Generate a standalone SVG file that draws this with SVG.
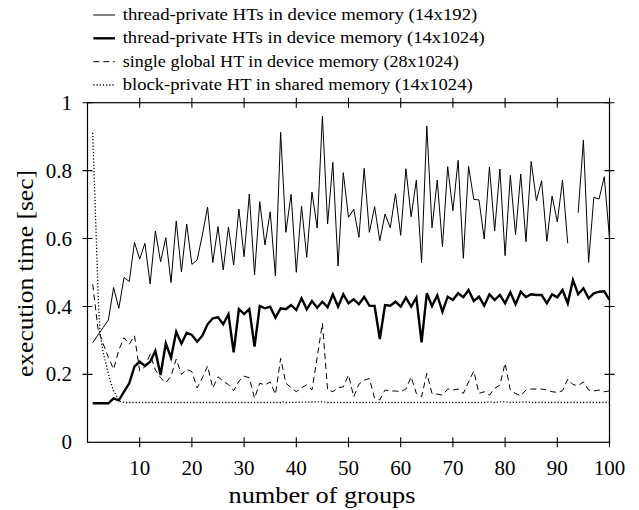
<svg xmlns="http://www.w3.org/2000/svg" width="639" height="510" viewBox="0 0 639 510">
<style>
.ax{fill:none;stroke:#000;stroke-width:1.2}
.tick{stroke:#000;stroke-width:1.1}
.thin{fill:none;stroke:#000;stroke-width:1;stroke-linejoin:miter}
.thick{fill:none;stroke:#000;stroke-width:2.4;stroke-linejoin:miter}
.dash{fill:none;stroke:#000;stroke-width:1;stroke-dasharray:6 4}
.dot{fill:none;stroke:#000;stroke-width:1.3;stroke-dasharray:1.2 2}
</style>
<rect width="639" height="510" fill="#fff"/>
<g id="legend">
  <g id="leg1"><line class="thin" x1="93.3" y1="15" x2="115" y2="15"/><text font-family="Liberation Serif, serif" font-size="17.5" x="122.7" y="20" textLength="354.6" lengthAdjust="spacingAndGlyphs">thread-private HTs in device memory (14x192)</text></g>
  <g id="leg2"><line class="thick" x1="93.3" y1="38.3" x2="115" y2="38.3"/><text font-family="Liberation Serif, serif" font-size="17.5" x="122.7" y="43.3" textLength="362" lengthAdjust="spacingAndGlyphs">thread-private HTs in device memory (14x1024)</text></g>
  <g id="leg3"><line class="dash" x1="93.3" y1="61.7" x2="115" y2="61.7"/><text font-family="Liberation Serif, serif" font-size="17.5" x="122.7" y="66.7" textLength="336" lengthAdjust="spacingAndGlyphs">single global HT in device memory (28x1024)</text></g>
  <g id="leg4"><line class="dot" x1="93.3" y1="85" x2="115" y2="85"/><text font-family="Liberation Serif, serif" font-size="17.5" x="122.7" y="90" textLength="350" lengthAdjust="spacingAndGlyphs">block-private HT in shared memory (14x1024)</text></g>
</g>
<g id="axes">
  <rect class="ax" x="87.5" y="102.7" width="522" height="339.6"/>
  <path class="tick" d="M139.7,437.3v10M191.9,437.3v10M244.1,437.3v10M296.3,437.3v10M348.5,437.3v10M400.7,437.3v10M452.9,437.3v10M505.1,437.3v10M557.3,437.3v10M609.5,437.3v10
  M139.7,97.7v10M191.9,97.7v10M244.1,97.7v10M296.3,97.7v10M348.5,97.7v10M400.7,97.7v10M452.9,97.7v10M505.1,97.7v10M557.3,97.7v10M609.5,97.7v10
  M82.5,374.4h10M82.5,306.5h10M82.5,238.5h10M82.5,170.6h10M82.5,102.7h10
  M604.5,374.4h10M604.5,306.5h10M604.5,238.5h10M604.5,170.6h10M604.5,102.7h10"/>
</g>
<g id="ylabels" text-anchor="end" font-family="Liberation Serif, serif" font-size="21">
  <text x="72" y="449.3">0</text>
  <text x="72" y="381.4">0.2</text>
  <text x="72" y="313.5">0.4</text>
  <text x="72" y="245.5">0.6</text>
  <text x="72" y="177.6">0.8</text>
  <text x="72" y="109.7">1</text>
</g>
<g id="xlabels" text-anchor="middle" font-family="Liberation Serif, serif" font-size="21">
  <text x="139.7" y="475">10</text>
  <text x="191.9" y="475">20</text>
  <text x="244.1" y="475">30</text>
  <text x="296.3" y="475">40</text>
  <text x="348.5" y="475">50</text>
  <text x="400.7" y="475">60</text>
  <text x="452.9" y="475">70</text>
  <text x="505.1" y="475">80</text>
  <text x="557.3" y="475">90</text>
  <text x="609.5" y="475">100</text>
</g>
<text id="xtitle" font-family="Liberation Serif, serif" font-size="23" x="322" y="503" text-anchor="middle" textLength="187" lengthAdjust="spacingAndGlyphs">number of groups</text>
<text id="ytitle" font-family="Liberation Serif, serif" font-size="23" transform="translate(33,273.5) rotate(-90)" text-anchor="middle" textLength="207" lengthAdjust="spacingAndGlyphs">execution time [sec]</text>
<g id="series">
  <polyline id="s1a" class="thin" points="92.72,342.7 97.94,335 103.16,327.5 108.38,320 113.6,287.5 118.82,308.3 124.04,277.5 129.26,281.5 134.48,242.5 139.7,259 144.92,243.3 150.14,284 155.36,231 160.58,261.7 165.8,237.7 171.02,282.5 176.24,221 181.46,272 186.68,224 191.9,264.3 197.12,260 202.34,235 207.56,207 212.78,262.5 218,226.7 223.22,270 228.44,227 233.66,265 238.88,209 244.1,256.7 249.32,194 254.54,275 259.76,201.7 264.98,245 270.2,211.7 275.42,276 280.64,132.3 285.86,232.3 291.08,194.3 296.3,272.3 301.52,206 306.74,257.3 311.96,192 317.18,228 322.4,116 327.62,224 332.84,162.3 338.06,266 343.28,172.7 348.5,217.3 353.72,209.3 358.94,237.3 364.16,168.3 369.38,232.3 374.6,206.7 379.82,240.7 385.04,214 390.26,227.7 395.48,193.7 400.7,235.3 405.92,168.7 411.14,216.7 416.36,180 421.58,262.7 426.8,126 432.02,227.7 437.24,180 442.46,246.7 447.68,166.7 452.9,210.7 458.12,160.3 463.34,258.3 468.56,166.3 473.78,199.3 479,200 484.22,239 489.44,167 494.66,231 499.88,169 505.1,255.7 510.32,175.3 515.54,234.7 520.76,174 525.98,241.7 531.2,161.3 536.42,200.7 541.64,180.7 546.86,241.3 552.08,196 557.3,222 562.52,180 567.74,243.3"/>
  <polyline id="s1b" class="thin" points="578.18,212.7 583.4,140 588.62,262.3 593.84,197.3 599.06,199 604.28,176.7 609.5,238.3"/>
  <polyline id="s2" class="thick" points="92.72,403.3 97.94,403.3 103.16,403.3 108.38,403.3 113.6,398.3 118.82,400.3 124.04,391.7 129.26,383.3 134.48,366.5 139.7,361.7 144.92,366 150.14,361.7 155.36,351 160.58,375 165.8,343.3 171.02,357.7 176.24,331.7 181.46,343.7 186.68,332.7 191.9,335 197.12,341.7 202.34,335.7 207.56,324.3 212.78,318.3 218,317.3 223.22,324.3 228.44,314.3 233.66,352.3 238.88,309 244.1,314 249.32,309 254.54,346.7 259.76,306 264.98,308.3 270.2,306.7 275.42,317.7 280.64,308.3 285.86,309.3 291.08,305 296.3,310 301.52,298.3 306.74,309.3 311.96,301 317.18,307.7 322.4,301.7 327.62,307.3 332.84,294.3 338.06,306.7 343.28,294.3 348.5,303.3 353.72,299.3 358.94,304.3 364.16,297 369.38,305.7 374.6,306 379.82,339 385.04,305 390.26,305.7 395.48,301.7 400.7,306.7 405.92,297.7 411.14,306.7 416.36,297.7 421.58,342.3 426.8,293.3 432.02,306 437.24,295.5 442.46,311.7 447.68,296.7 452.9,300 458.12,293.3 463.34,297.3 468.56,290 473.78,301 479,296.7 484.22,305.7 489.44,294.3 494.66,300 499.88,295 505.1,303.3 510.32,292.3 515.54,304.3 520.76,291.7 525.98,297 531.2,294.3 536.42,295 541.64,295 546.86,303.3 552.08,294.3 557.3,297.3 562.52,290 567.74,303.3 572.96,280 578.18,294.3 583.4,288.3 588.62,298.3 593.84,293.3 599.06,291.7 604.28,291.3 609.5,300"/>
  <polyline id="s3" class="dash" points="92.72,284.4 97.94,328.5 103.16,343.8 108.38,357.4 113.6,369.3 118.82,350 124.04,337.7 129.26,344.3 134.48,335.7 139.7,371 144.92,366.7 150.14,354.3 155.36,370 160.58,377.8 165.8,382.9 171.02,376.1 176.24,359.1 181.46,374.4 186.68,369.3 191.9,371.7 197.12,388 202.34,377.8 207.56,366 212.78,388 218,376.8 223.22,381.2 228.44,384.6 233.66,390.7 238.88,381.2 244.1,376.1 249.32,377.8 254.54,398.2 259.76,383.2 264.98,385 270.2,381.9 275.42,394.4 280.64,358.4 285.86,383.2 291.08,387.6 296.3,391.7 301.52,387.6 306.74,385 311.96,390 317.18,357.4 322.4,323.4 327.62,390 332.84,391.7 338.06,387.6 343.28,386.9 348.5,375 353.72,396.8 358.94,384.2 364.16,380.2 369.38,378.5 374.6,398.2 379.82,399.9 385.04,390 390.26,391 395.48,391 400.7,391.7 405.92,389 411.14,376.8 416.36,393.4 421.58,396.8 426.8,373.4 432.02,393.4 437.24,394.1 442.46,395.1 447.68,389 452.9,390 458.12,389 463.34,393.4 468.56,381.9 473.78,371 479,393.4 484.22,391.7 489.44,395.1 494.66,388.3 499.88,385 505.1,363.2 510.32,390 515.54,393.4 520.76,395.8 525.98,390 531.2,389 536.42,389 541.64,389 546.86,390 552.08,391.7 557.3,392.4 562.52,390.7 567.74,379.1 572.96,384.6 578.18,385.6 583.4,381.9 588.62,390 593.84,391 599.06,390 604.28,391.7 609.5,391"/>
  <polyline id="s4" class="dot" points="92.72,132.7 95,200 98.3,300 100,333 103,352 106.7,366.7 110,380 113.3,390 117,397 120,401.3 124.04,402.5 280.64,402.5 282,401.8 285.86,402.5 322.4,401.8 327.62,402.5 484.22,402.5 489.44,401.8 494.66,402.5 505.1,401.6 510.32,402.5 525.98,401.9 531.2,402.5 609.5,402.5"/>
</g>
</svg>
